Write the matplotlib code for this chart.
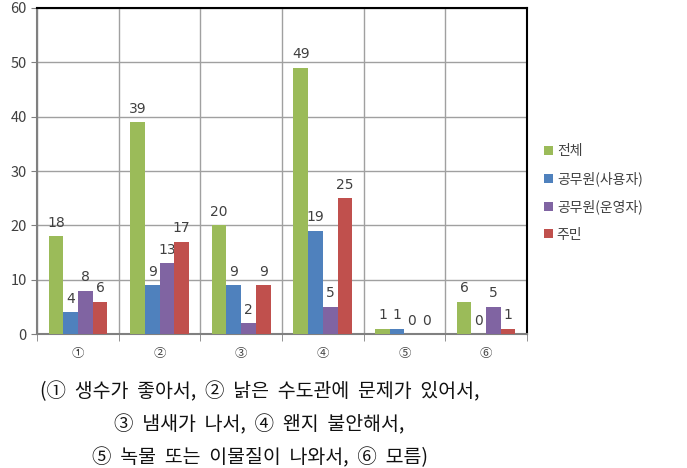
import numpy as np
import matplotlib
matplotlib.use("Agg")
import matplotlib.pyplot as plt

plt.rcParams['font.family'] = ['Noto Sans CJK KR', 'DejaVu Sans']

# survey answers per reason
categories = ["①", "②", "③", "④", "⑤", "⑥"]
series_names = ["전체", "공무원(사용자)", "공무원(운영자)", "주민"]
total = [18, 39, 20, 49, 1, 6]
official_user = [4, 9, 9, 19, 1, 0]
official_operator = [8, 13, 2, 5, 0, 5]
residents = [6, 17, 9, 25, 0, 1]
colors = ["#9BBB59", "#4F81BD", "#8064A2", "#C0504D"]

caption = ["(①  생수가  좋아서,  ②  낡은  수도관에  문제가  있어서,",
           "③  냄새가  나서,  ④  왠지  불안해서,",
           "⑤  녹물  또는  이물질이  나와서,  ⑥  모름)"]

fig = plt.figure(figsize=(6.87, 4.68), dpi=100)
ax = fig.add_axes([0.054, 0.286, 0.713, 0.697])

x = np.arange(len(categories))
w = 0.18
all_series = [total, official_user, official_operator, residents]
for i, vals in enumerate(all_series):
    pos = x + (i - 1.5) * w
    ax.bar(pos, vals, width=w, color=colors[i], label=series_names[i], zorder=3)
    for p, v in zip(pos, vals):
        ax.text(p, v + 1.2, str(v), ha='center', va='bottom', fontsize=10,
                color='#404040', family='DejaVu Sans')

ax.set_xlim(-0.5, len(categories) - 0.5)
ax.set_ylim(0, 60)
ax.set_yticks(range(0, 61, 10))
ax.set_xticks(x)
ax.set_xticklabels(categories, fontsize=9, color='#404040')
ax.tick_params(axis='x', length=0, pad=9)
ax.tick_params(axis='y', length=4, labelsize=10.5, labelcolor='#404040', color='#808080')
ax.set_xticks(np.arange(-0.5, len(categories), 1), minor=True)
ax.tick_params(axis='x', which='minor', length=5, color='#808080')
ax.grid(True, which='minor', axis='x', color='#A0A0A0', lw=1, zorder=0)
ax.grid(True, which='major', axis='y', color='#A0A0A0', lw=1, zorder=0)
for s in ['top', 'right']:
    ax.spines[s].set_color('black')
    ax.spines[s].set_linewidth(1.5)
for s in ['left', 'bottom']:
    ax.spines[s].set_color('#808080')
    ax.spines[s].set_linewidth(1.5)

ax.legend(loc='upper left', bbox_to_anchor=(1.01, 0.62), frameon=False,
          handlelength=0.6, handleheight=0.6, handletextpad=0.3,
          labelspacing=0.95, fontsize=10, labelcolor='#404040')

for k, line in enumerate(caption):
    fig.text(0.378, 1 - (392 + 33 * k) / 468, line, ha='center', va='center',
             fontsize=14, color='#111111')

fig.savefig("out.png", dpi=100)
